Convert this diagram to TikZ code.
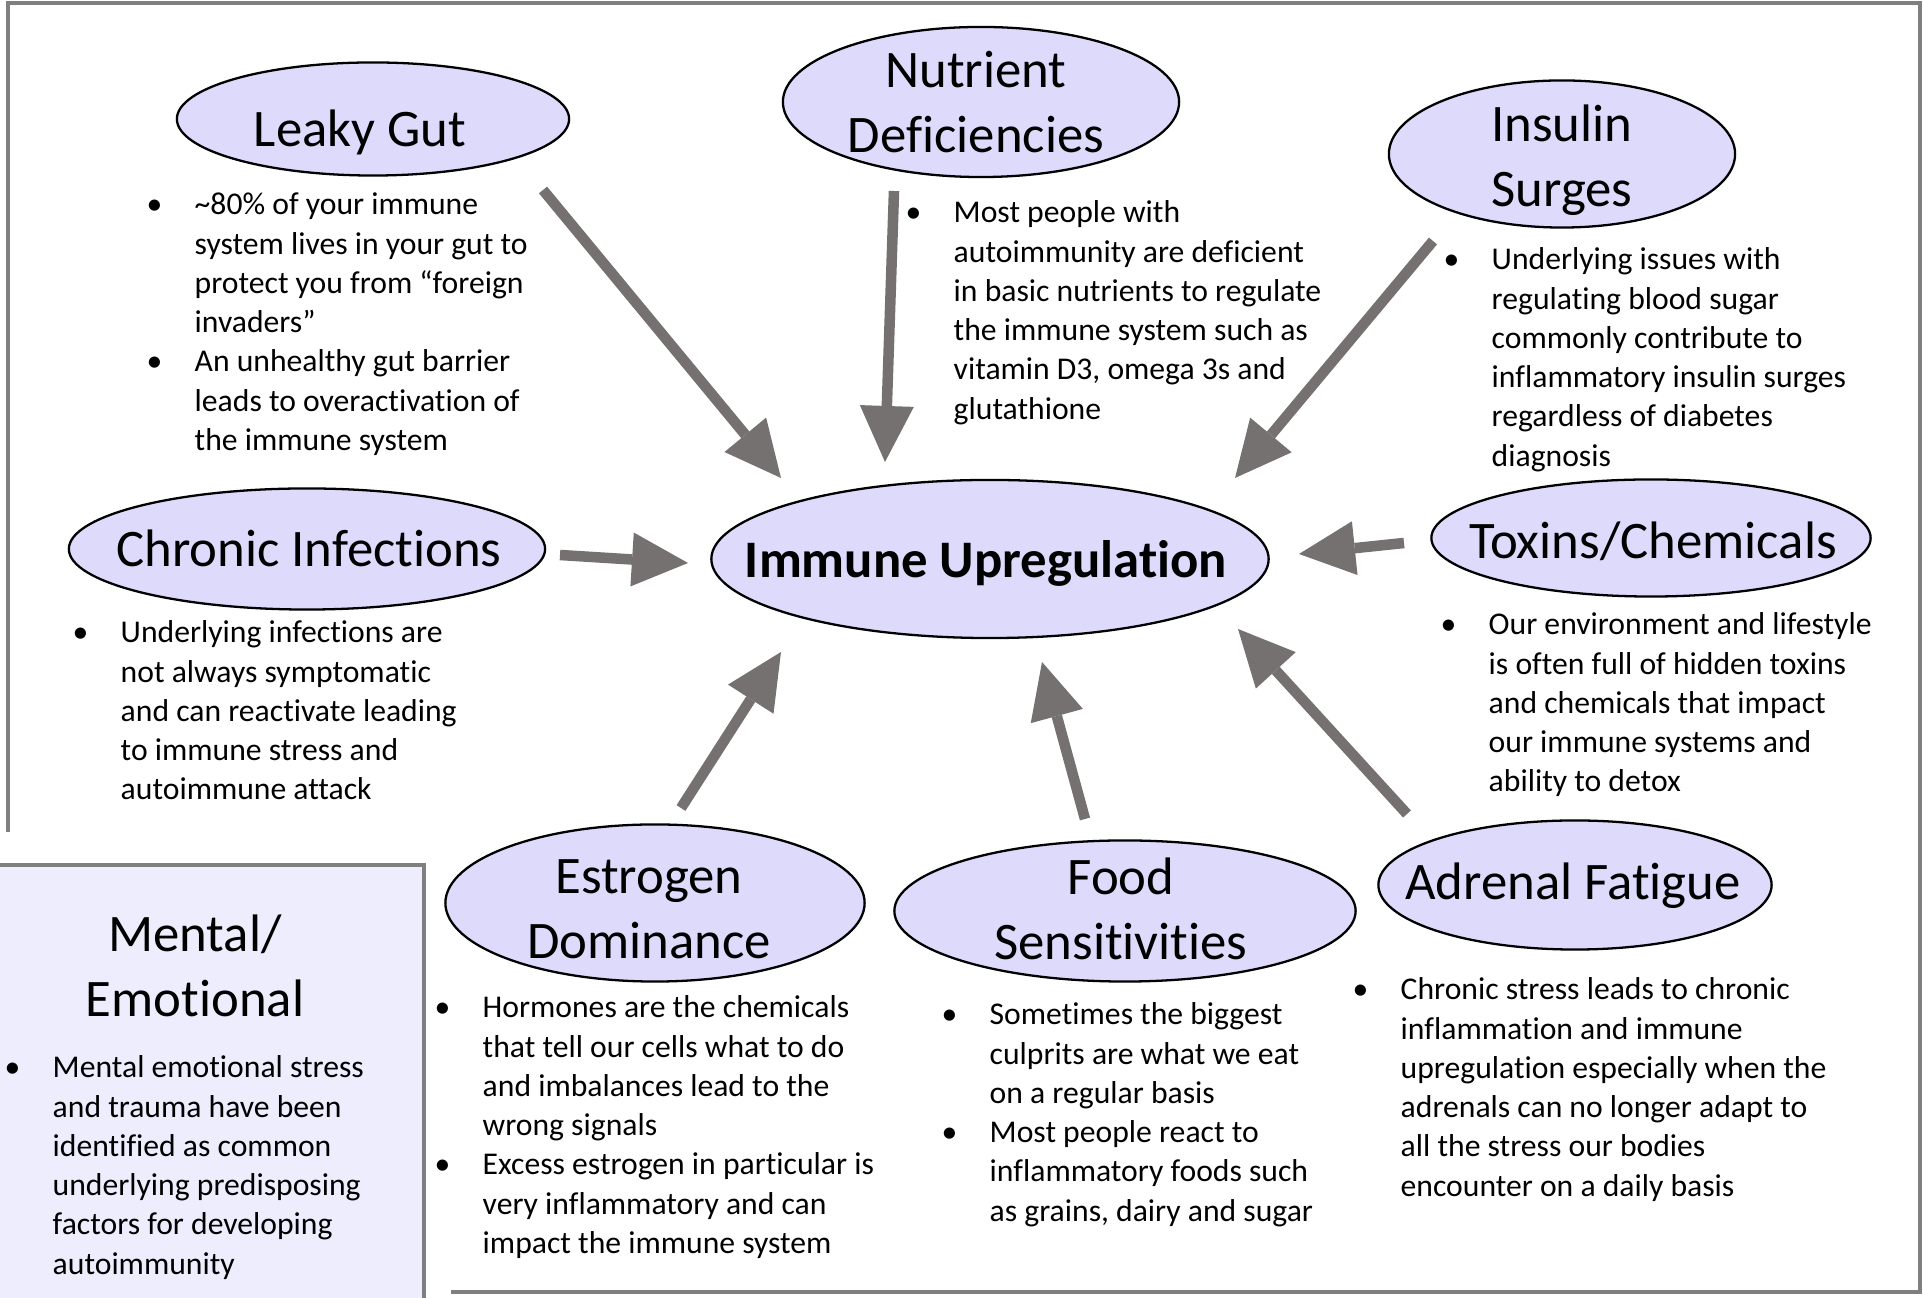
\documentclass[tikz,border=0pt]{standalone}
\usepackage{fontspec}
\setmainfont{Carlito}[Ligatures={TeX,NoCommon}]
\usetikzlibrary{shapes.geometric,arrows.meta}

\definecolor{bubblefill}{HTML}{DDDAFC}
\definecolor{boxfill}{HTML}{EEEDFD}
\definecolor{arrowgray}{HTML}{767171}
\definecolor{framegray}{HTML}{7F7F7F}

\newcommand{\bodyfont}{\fontsize{9}{11.15}\selectfont}
\newcommand{\titlefont}{\fontsize{15}{18.5}\selectfont}

\tikzstyle{bubble} = [ellipse, draw=black, line width=0.65pt, fill=bubblefill, inner sep=0pt]
\tikzstyle{title} = [font=\titlefont, align=center]
\tikzstyle{note} = [anchor=base west, inner sep=0pt, font=\bodyfont]
\tikzstyle{arrow} = [line width=3pt, draw=arrowgray, -{Triangle[length=0.56cm, width=0.54cm, line width=0pt]}]
\tikzstyle{frame} = [draw=framegray, line width=1pt]

\begin{document}
\begin{tikzpicture}[x=0.01cm, y=-0.01cm]

\useasboundingbox (0,0) rectangle (1923,1298);

% outer frame
\draw[frame] (451,1292) -- (1920,1292) -- (1920,3) -- (8,3) -- (8,832);

% centre
\node (immune) [bubble, minimum width=5.57cm, minimum height=1.58cm, label={[title, font=\titlefont\bfseries, shift={(-4,4)}]center:Immune Upregulation}] at (990,559) {};

% causes
\node (leaky) [bubble, minimum width=3.92cm, minimum height=1.13cm, label={[title, shift={(-13,13)}]center:Leaky Gut}] at (373,119) {};
\node (nutrient) [bubble, minimum width=3.96cm, minimum height=1.50cm, label={[title, shift={(-5,0)}]center:Nutrient\\Deficiencies}] at (981,102) {};
\node (insulin) [bubble, minimum width=3.46cm, minimum height=1.47cm, label={[title, shift={(0,6)}]center:Insulin\\Surges}] at (1562,154) {};
\node (chronic) [bubble, minimum width=4.76cm, minimum height=1.21cm, label={[title, shift={(2,-1)}]center:Chronic Infections}] at (307,549) {};
\node (toxins) [bubble, minimum width=4.39cm, minimum height=1.17cm, label={[title, shift={(2,3)}]center:Toxins/Chemicals}] at (1651,538) {};
\node (estrogen) [bubble, minimum width=4.19cm, minimum height=1.57cm, label={[title, shift={(-6,6)}]center:Estrogen\\Dominance}] at (655,903) {};
\node (food) [bubble, minimum width=4.61cm, minimum height=1.41cm, label={[title, shift={(-4,-2)}]center:Food\\Sensitivities}] at (1125,911) {};
\node (adrenal) [bubble, minimum width=3.93cm, minimum height=1.29cm, label={[title, shift={(-2,1)}]center:Adrenal Fatigue}] at (1575,885) {};

% mental / emotional box
\node (mentalbox) [rectangle, draw=framegray, line width=1pt, fill=boxfill, anchor=north west, minimum width=4.32cm, minimum height=4.50cm] at (-10,863) {};
\node (mental) [title] at (195,966) {Mental/\\Emotional};

% notes
\node (leakytext) [note] at (146,215) {\begin{tabular}[t]{@{}p{0.48cm}@{}l@{}}
\textbullet & \textasciitilde80\% of your immune\\
 & system lives in your gut to\\
 & protect you from “foreign\\
 & invaders”\\
\textbullet & An unhealthy gut barrier\\
 & leads to overactivation of\\
 & the immune system
\end{tabular}};

\node (nutrienttext) [note] at (905,223) {\begin{tabular}[t]{@{}p{0.48cm}@{}l@{}}
\textbullet & Most people with\\
 & autoimmunity are deficient\\
 & in basic nutrients to regulate\\
 & the immune system such as\\
 & vitamin D3, omega 3s and\\
 & glutathione
\end{tabular}};

\node (insulintext) [note] at (1443,270) {\begin{tabular}[t]{@{}p{0.48cm}@{}l@{}}
\textbullet & Underlying issues with\\
 & regulating blood sugar\\
 & commonly contribute to\\
 & inflammatory insulin surges\\
 & regardless of diabetes\\
 & diagnosis
\end{tabular}};

\node (chronictext) [note] at (72,643) {\begin{tabular}[t]{@{}p{0.48cm}@{}l@{}}
\textbullet & Underlying infections are\\
 & not always symptomatic\\
 & and can reactivate leading\\
 & to immune stress and\\
 & autoimmune attack
\end{tabular}};

\node (toxinstext) [note] at (1440,635) {\begin{tabular}[t]{@{}p{0.48cm}@{}l@{}}
\textbullet & Our environment and lifestyle\\
 & is often full of hidden toxins\\
 & and chemicals that impact\\
 & our immune systems and\\
 & ability to detox
\end{tabular}};

\node (estrogentext) [note] at (434,1018) {\begin{tabular}[t]{@{}p{0.48cm}@{}l@{}}
\textbullet & Hormones are the chemicals\\
 & that tell our cells what to do\\
 & and imbalances lead to the\\
 & wrong signals\\
\textbullet & Excess estrogen in particular is\\
 & very inflammatory and can\\
 & impact the immune system
\end{tabular}};

\node (foodtext) [note] at (941,1025) {\begin{tabular}[t]{@{}p{0.48cm}@{}l@{}}
\textbullet & Sometimes the biggest\\
 & culprits are what we eat\\
 & on a regular basis\\
\textbullet & Most people react to\\
 & inflammatory foods such\\
 & as grains, dairy and sugar
\end{tabular}};

\node (adrenaltext) [note] at (1352,1000) {\begin{tabular}[t]{@{}p{0.48cm}@{}l@{}}
\textbullet & Chronic stress leads to chronic\\
 & inflammation and immune\\
 & upregulation especially when the\\
 & adrenals can no longer adapt to\\
 & all the stress our bodies\\
 & encounter on a daily basis
\end{tabular}};

\node (mentaltext) [note] at (4,1078) {\begin{tabular}[t]{@{}p{0.48cm}@{}l@{}}
\textbullet & Mental emotional stress\\
 & and trauma have been\\
 & identified as common\\
 & underlying predisposing\\
 & factors for developing\\
 & autoimmunity
\end{tabular}};

% arrow ends
\coordinate (leakytail) at (543,190);
\coordinate (leakytip) at (781,478);
\coordinate (nutrienttail) at (894,191);
\coordinate (nutrienttip) at (885,462);
\coordinate (insulintail) at (1433,241);
\coordinate (insulintip) at (1235,478);
\coordinate (chronictail) at (560,555);
\coordinate (chronictip) at (688,563);
\coordinate (toxinstail) at (1404,543);
\coordinate (toxinstip) at (1299,554);
\coordinate (estrogentail) at (681,808);
\coordinate (estrogentip) at (781,652);
\coordinate (foodtail) at (1085,819);
\coordinate (foodtip) at (1042,662);
\coordinate (adrenaltail) at (1407,814);
\coordinate (adrenaltip) at (1238,629);

\draw[arrow] (leakytail) -- (leakytip);
\draw[arrow] (nutrienttail) -- (nutrienttip);
\draw[arrow] (insulintail) -- (insulintip);
\draw[arrow] (chronictail) -- (chronictip);
\draw[arrow] (toxinstail) -- (toxinstip);
\draw[arrow] (estrogentail) -- (estrogentip);
\draw[arrow] (foodtail) -- (foodtip);
\draw[arrow] (adrenaltail) -- (adrenaltip);

\end{tikzpicture}
\end{document}
